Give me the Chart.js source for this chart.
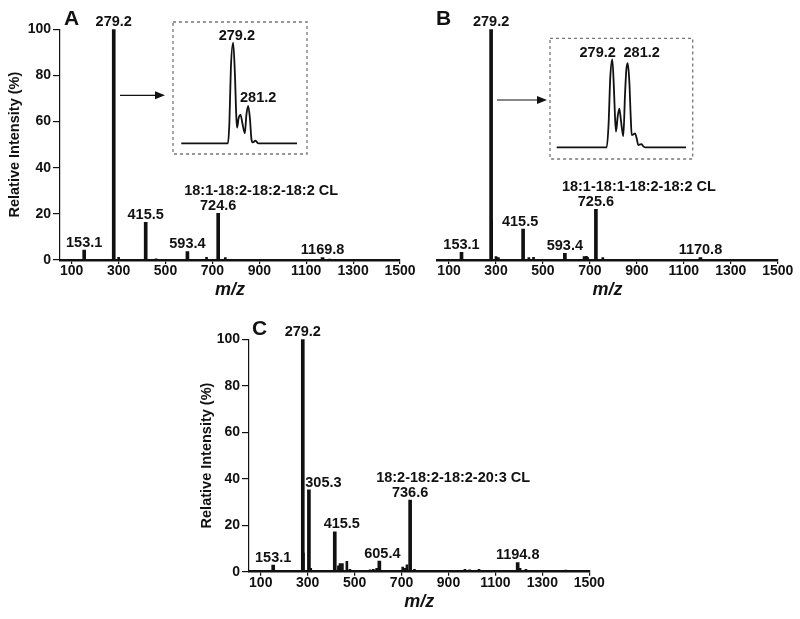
<!DOCTYPE html>
<html>
<head>
<meta charset="utf-8">
<script src="https://cdn.jsdelivr.net/npm/chart.js@4"></script>
<style>
body { margin: 0; background: #fff; }
#wrap { position: relative; width: 800px; height: 619px; }
#wrap canvas { position: absolute; left: 0; top: 0; }
</style>
</head>
<body>
<div id="wrap">
  <canvas id="chartA" width="800" height="619"></canvas>
  <canvas id="chartB" width="800" height="619"></canvas>
  <canvas id="chartC" width="800" height="619"></canvas>
  <canvas id="insetA" width="800" height="619"></canvas>
  <canvas id="insetB" width="800" height="619"></canvas>
</div>
<script>
// axis ticks
var xTicks = [100, 300, 500, 700, 900, 1100, 1300, 1500];
var yTicks = [0, 20, 40, 60, 80, 100];

// panel A (labelled peaks + small peaks)
var aMz = [153.1, 279.2, 415.5, 593.4, 724.6, 1169.8];
var aInt = [4.3, 100, 16.3, 3.6, 20.2, 1.0];
var aMinorMz = [300, 460, 675, 755, 1200];
var aMinorInt = [1.2, 0.5, 1.2, 1.0, 0.4];
var aCL = '18:1-18:2-18:2-18:2 CL';
var aCLMz = 724.6;

// panel B
var bMz = [153.1, 279.2, 415.5, 593.4, 725.6, 1170.8];
var bInt = [3.3, 100, 13.4, 2.9, 22, 1.0];
var bMinorMz = [281.2, 300, 310, 440, 460, 675, 685, 690, 755];
var bMinorInt = [17, 1.5, 1, 1, 1.2, 1.5, 1.6, 1.2, 1.0];
var bCL = '18:1-18:1-18:2-18:2 CL';
var bCLMz = 725.6;

// panel C
var cMz = [153.1, 279.2, 305.3, 415.5, 605.4, 736.6, 1194.8];
var cInt = [2.9, 100, 35.2, 17.2, 4.6, 30.8, 3.9];
var cMinorMz = [282, 313, 431, 438, 448, 467, 480, 566, 580, 594, 705, 714, 723, 755, 790, 860, 970, 990, 1030, 1205, 1230, 1400];
var cMinorInt = [8, 1.5, 2.5, 3.5, 3.5, 4.5, 1, 0.8, 1, 1.5, 2, 1.5, 3, 1, 0.5, 0.5, 1, 0.8, 1, 1.5, 1, 0.7];
var cCL = '18:2-18:2-18:2-20:3 CL';
var cCLMz = 736.6;

// zoomed insets (profile around m/z 279-281)
var insetAMz = [272.3, 278.5, 278.7, 278.9, 279.2, 279.43, 279.63, 279.73, 279.93, 280.19, 280.43, 280.76, 280.96, 281.2, 281.43, 281.65, 281.83, 282.19, 282.43, 282.55, 287.7];
var insetAInt = [0, 0, 20, 75, 100, 70, 25, 15.6, 25, 28.3, 20, 10, 28, 37.3, 25, 3.3, 1, 2.6, 0.5, 0, 0];
var insetBMz = [271.98, 278.47, 278.71, 278.94, 279.2, 279.42, 279.55, 279.68, 279.9, 280.11, 280.33, 280.63, 280.85, 281.02, 281.2, 281.41, 281.59, 281.72, 281.93, 282.15, 282.37, 282.58, 282.8, 283.02, 283.23, 283.45, 288.77];
var insetBInt = [0, 0, 25, 80, 100, 65, 35, 17.8, 35, 44, 30, 12.8, 60, 88, 95.5, 75, 35, 14, 14.5, 15.9, 10, 2.6, 3.2, 3.7, 1, 0, 0];
var insetPeaks = [279.2, 281.2];

var ink = '#111';
var family = '"Liberation Sans", Arial, Helvetica, sans-serif';
Chart.defaults.font.family = family;
Chart.defaults.color = ink;

function toPoints(xs, ys) {
    return xs.map(function (x, i) { return { x: x, y: ys[i] }; });
}

function findInt(mzs, ints, m) {
    var i = mzs.indexOf(m);
    return i < 0 ? 0 : ints[i];
}

// peak labels, CL names, panel letters, arrows, inset frames
var decor = {
    id: 'decor',
    afterDatasetsDraw: function (chart, args, o) {
        var ctx = chart.ctx, xs = chart.scales.x, ys = chart.scales.y;
        ctx.save();
        ctx.fillStyle = ink;
        ctx.strokeStyle = ink;
        ctx.font = 'bold 14.5px ' + family;
        ctx.textAlign = 'center';
        ctx.textBaseline = 'alphabetic';
        (o.items || []).forEach(function (it) {
            var x = xs.getPixelForValue(it.mz) + (it.dx || 0);
            var y = ys.getPixelForValue(it.y) - (it.gap || 3.3);
            ctx.fillText(it.text, x, y);
        });
        if (o.cl) {
            var cx = xs.getPixelForValue(o.cl.mz) - 34;
            var cy = ys.getPixelForValue(o.cl.y) - 3.3 - 15;
            ctx.textAlign = 'left';
            ctx.fillText(o.cl.text, cx, cy);
        }
        if (o.letter) {
            ctx.font = 'bold 21px ' + family;
            ctx.textAlign = 'left';
            ctx.fillText(o.letter.text, o.letter.x, o.letter.y);
        }
        if (o.arrow) {
            var a = o.arrow;
            ctx.lineWidth = 1.2;
            ctx.beginPath();
            ctx.moveTo(a.x1, a.y);
            ctx.lineTo(a.x2 - 8, a.y);
            ctx.stroke();
            ctx.beginPath();
            ctx.moveTo(a.x2, a.y);
            ctx.lineTo(a.x2 - 10, a.y - 4);
            ctx.lineTo(a.x2 - 10, a.y + 4);
            ctx.closePath();
            ctx.fill();
        }
        if (o.frame) {
            var f = o.frame;
            ctx.strokeStyle = '#777';
            ctx.lineWidth = 1.3;
            ctx.setLineDash([3, 3]);
            ctx.strokeRect(f.x1, f.y1, f.x2 - f.x1, f.y2 - f.y1);
        }
        ctx.restore();
    }
};

function spectrum(id, p) {
    var yW = p.showY ? 60 : 0;
    return new Chart(document.getElementById(id), {
        type: 'bar',
        data: {
            datasets: [
                { data: toPoints(p.mz, p.ints), backgroundColor: ink, barThickness: 3, grouped: false },
                { data: toPoints(p.minorMz, p.minorInts), backgroundColor: ink, barThickness: 2, grouped: false }
            ]
        },
        options: {
            responsive: false,
            animation: false,
            devicePixelRatio: 1,
            layout: {
                padding: { left: p.area.left - yW, right: 800 - p.area.right, top: p.area.top, bottom: 619 - p.area.bottom - 44 }
            },
            plugins: {
                legend: { display: false },
                tooltip: { enabled: false },
                decor: {
                    items: p.mz.map(function (m, i) {
                        return { mz: m, y: p.ints[i], text: m.toFixed(1), dx: (p.shift || {})[m] || 0 };
                    }),
                    cl: { mz: p.clMz, y: findInt(p.mz, p.ints, p.clMz), text: p.cl },
                    letter: p.letter,
                    arrow: p.arrow
                }
            },
            scales: {
                x: {
                    type: 'linear', min: 50, max: 1500, offset: false,
                    afterBuildTicks: function (s) { s.ticks = xTicks.map(function (v) { return { value: v }; }); },
                    afterFit: function (s) { s.height = 44; },
                    grid: { drawOnChartArea: false, offset: false, color: ink, lineWidth: 1.2, tickLength: 4 },
                    border: { display: true, color: ink, width: 2.5 },
                    ticks: {
                        font: { size: 14, weight: 'bold', lineHeight: 1 }, color: ink, padding: 0, maxRotation: 0, autoSkip: false,
                        callback: function (v) { return String(v); }
                    },
                    title: { display: true, text: 'm/z', color: ink, font: { size: 18, weight: 'bold', style: 'italic' }, padding: { top: 0, bottom: 3 } }
                },
                y: {
                    display: p.showY, min: 0, max: 100,
                    afterBuildTicks: function (s) { s.ticks = yTicks.map(function (v) { return { value: v }; }); },
                    afterFit: function (s) { s.width = yW; },
                    grid: { drawOnChartArea: false, color: ink, lineWidth: 1.2, tickLength: 7 },
                    border: { display: true, color: ink, width: 1.2 },
                    ticks: { font: { size: 14, weight: 'bold', lineHeight: 1 }, color: ink, padding: 2 },
                    title: { display: true, text: 'Relative Intensity (%)', color: ink, font: { size: 14.5, weight: 'bold' }, padding: { top: p.yTitlePad || 0, bottom: 0 } }
                }
            }
        },
        plugins: [decor]
    });
}

function inset(id, p) {
    return new Chart(document.getElementById(id), {
        type: 'line',
        data: {
            datasets: [{
                data: toPoints(p.mz, p.ints), borderColor: ink, borderWidth: 1.8,
                pointRadius: 0, cubicInterpolationMode: 'monotone', clip: false, fill: false
            }]
        },
        options: {
            responsive: false,
            animation: false,
            devicePixelRatio: 1,
            layout: {
                padding: { left: p.area.left, right: 800 - p.area.right, top: p.area.top, bottom: 619 - p.area.bottom }
            },
            plugins: {
                legend: { display: false },
                tooltip: { enabled: false },
                decor: {
                    items: insetPeaks.map(function (m, i) {
                        return { mz: m, y: findInt(p.mz, p.ints, m), text: m.toFixed(1), dx: p.dx[i], gap: p.gap[i] };
                    }),
                    frame: p.frame
                }
            },
            scales: {
                x: { type: 'linear', display: false, min: p.mz[0], max: p.mz[p.mz.length - 1] },
                y: { display: false, min: 0, max: 100 }
            }
        },
        plugins: [decor]
    });
}

spectrum('chartA', {
    mz: aMz, ints: aInt, minorMz: aMinorMz, minorInts: aMinorInt, cl: aCL, clMz: aCLMz,
    showY: true, yTitlePad: 6.3,
    area: { left: 60, right: 400, top: 29.3, bottom: 260 },
    letter: { text: 'A', x: 64, y: 25 },
    arrow: { x1: 120, x2: 165, y: 95.3 }
});
spectrum('chartB', {
    mz: bMz, ints: bInt, minorMz: bMinorMz, minorInts: bMinorInt, cl: bCL, clMz: bCLMz,
    showY: false, shift: { 415.5: -3 },
    area: { left: 437.3, right: 777.7, top: 29.3, bottom: 260 },
    letter: { text: 'B', x: 436, y: 25 },
    arrow: { x1: 497, x2: 547, y: 100 }
});
spectrum('chartC', {
    mz: cMz, ints: cInt, minorMz: cMinorMz, minorInts: cMinorInt, cl: cCL, clMz: cCLMz,
    showY: true, yTitlePad: 9,
    shift: { 305.3: 14.5, 415.5: 7, 605.4: 3 },
    area: { left: 249, right: 589.3, top: 339.3, bottom: 571.7 },
    letter: { text: 'C', x: 252, y: 335 }
});
inset('insetA', {
    mz: insetAMz, ints: insetAInt,
    area: { left: 181.3, right: 297, top: 42.7, bottom: 143.3 },
    dx: [3.7, 10], gap: [2.5, 4],
    frame: { x1: 173, y1: 22, x2: 307, y2: 154 }
});
inset('insetB', {
    mz: insetBMz, ints: insetBInt,
    area: { left: 556.7, right: 686, top: 59.3, bottom: 147.3 },
    dx: [-14.6, 14], gap: [2.5, 6],
    frame: { x1: 550, y1: 38.3, x2: 692.7, y2: 159 }
});
</script>
</body>
</html>
